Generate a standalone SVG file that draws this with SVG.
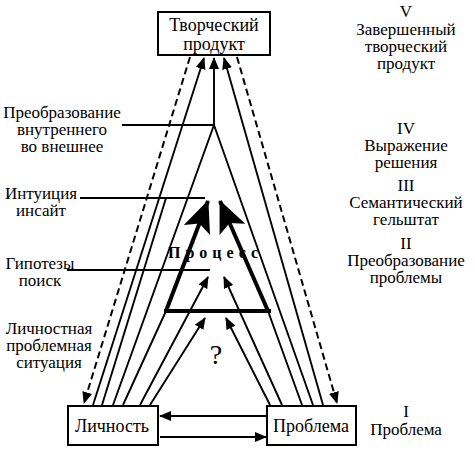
<svg xmlns="http://www.w3.org/2000/svg" width="475" height="452" viewBox="0 0 475 452" font-family="'Liberation Serif', 'Times New Roman', serif">
<style>
text{font-family:'Liberation Serif','Times New Roman',serif;fill:#000;font-size:17px}
.c{text-anchor:middle}
.box{fill:#fff;stroke:#000;stroke-width:2}
.ln{fill:none;stroke:#000;stroke-width:1.9}
.ar{fill:none;stroke:#000;stroke-width:1.9;marker-end:url(#ah)}
.ds{fill:none;stroke:#000;stroke-width:2;stroke-dasharray:7 4;marker-end:url(#ah)}
.tk{fill:none;stroke:#000;stroke-width:4}
.pr{font-weight:bold;font-size:16px;letter-spacing:5px}
</style>
<defs>
<marker id="ah" viewBox="0 0 12 10" refX="11" refY="5" markerWidth="12" markerHeight="10" markerUnits="userSpaceOnUse" orient="auto">
<path d="M0,0 L12,5 L0,10 Z" fill="#000"/>
</marker>
<marker id="big" viewBox="0 0 32 28" refX="31" refY="14" markerWidth="32" markerHeight="28" markerUnits="userSpaceOnUse" orient="auto">
<path d="M0,0 L32,14 L0,28 L7,14 Z" fill="#000"/>
</marker>
</defs>
<g id="connectors">
<path class="ds" d="M190,57 L84,403"/>
<path class="ds" d="M237,57 L337,403"/>
<path class="ar" d="M93,405 L204,58"/>
<path class="ar" d="M323,405 L224,58"/>
<path class="ar" d="M214,125 L214,58"/>
<path class="ln" d="M113,405 L214,125 L313,405"/>
<path class="ln" d="M102,405 L166,198"/>
<path class="ln" d="M123,405 L166,311"/>
<path class="ln" d="M302,405 L268,311"/>
<path class="tk" d="M166,311 L208,201" marker-end="url(#big)"/>
<path class="tk" d="M268,311 L220,201" marker-end="url(#big)"/>
<path class="tk" d="M164,311 L271,311"/>
<path class="ar" d="M140,405 L208,277"/>
<path class="ar" d="M282,405 L224,277"/>
<path class="ar" d="M150,405 L205,318"/>
<path class="ar" d="M270,405 L226,318"/>
<path class="ar" d="M266,416 L160,416"/>
<path class="ar" d="M160,437 L266,437"/>
<path class="ln" d="M122,125 L214,125"/>
<path class="ln" d="M80,198 L205,198"/>
<path class="ln" d="M67,270 L210,270"/>
</g>
<g id="node-product">
<rect class="box" x="158" y="12" width="112" height="43"/>
<text class="c" x="214" y="31" style="font-size:18px">Творческий</text>
<text class="c" x="214" y="50" style="font-size:18px">продукт</text>
</g>
<g id="node-person">
<rect class="box" x="68" y="406" width="90" height="39"/>
<text class="c" x="112" y="432" style="font-size:18px">Личность</text>
</g>
<g id="node-problem">
<rect class="box" x="267" y="406" width="89" height="39"/>
<text class="c" x="311" y="432" style="font-size:18px">Проблема</text>
</g>
<g id="process">
<text class="pr" x="168" y="258">Процесс</text>
<text class="c" x="216" y="364" style="font-size:28px">?</text>
</g>
<g id="left-labels">
<text class="c" x="62" y="118">Преобразование</text>
<text class="c" x="62" y="135">внутреннего</text>
<text class="c" x="62" y="152">во внешнее</text>
<text class="c" x="41" y="199">Интуиция</text>
<text class="c" x="41" y="216">инсайт</text>
<text class="c" x="40" y="269">Гипотезы</text>
<text class="c" x="40" y="286">поиск</text>
<text class="c" x="49" y="334">Личностная</text>
<text class="c" x="49" y="351">проблемная</text>
<text class="c" x="49" y="368">ситуация</text>
</g>
<g id="right-labels">
<text class="c" x="406" y="17">V</text>
<text class="c" x="406" y="35">Завершенный</text>
<text class="c" x="406" y="52">творческий</text>
<text class="c" x="406" y="69">продукт</text>
<text class="c" x="406" y="134">IV</text>
<text class="c" x="406" y="151">Выражение</text>
<text class="c" x="406" y="168">решения</text>
<text class="c" x="406" y="191">III</text>
<text class="c" x="406" y="208">Семантический</text>
<text class="c" x="406" y="225">гельштат</text>
<text class="c" x="406" y="249">II</text>
<text class="c" x="406" y="266">Преобразование</text>
<text class="c" x="406" y="283">проблемы</text>
<text class="c" x="406" y="417">I</text>
<text class="c" x="406" y="435">Проблема</text>
</g>
</svg>
